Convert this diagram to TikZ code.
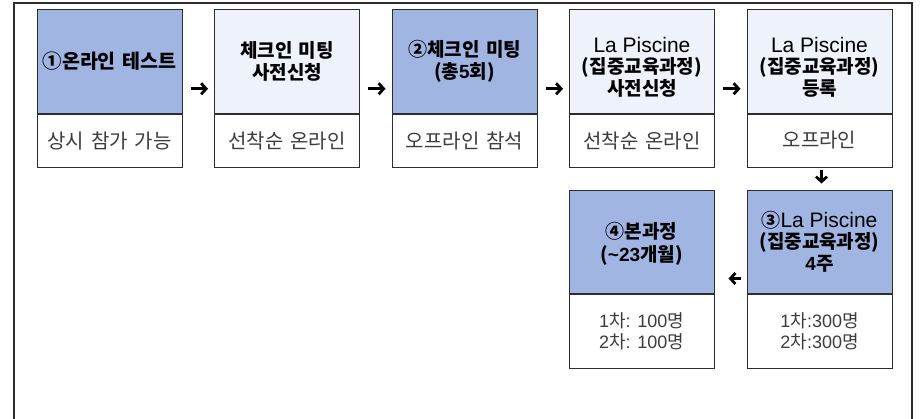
\documentclass[tikz,border=0pt]{standalone}
\usepackage{fontspec}
\setmainfont[WordSpace=1.5]{Noto Sans CJK KR}
\newfontfamily\lat{Liberation Sans}
\usetikzlibrary{positioning,arrows.meta}

\definecolor{stepcolor}{RGB}{161,181,227}
\definecolor{prepcolor}{RGB}{238,242,251}
\definecolor{linecolor}{RGB}{45,45,45}
\definecolor{notecolor}{RGB}{60,60,60}

\newcommand{\pool}{{\lat\mdseries\fontsize{21}{21.5}\selectfont La Piscine}}

\tikzset{
    headbox/.style={draw=linecolor, line width=1pt, minimum width=145pt, minimum height=103.5pt,
        inner sep=0pt, align=center, font=\fontsize{19.5}{21.5}\selectfont\bfseries},
    headtext/.style={inner sep=0pt, align=center, font=\fontsize{19}{21.5}\selectfont\bfseries},
    notebox/.style={draw=linecolor, line width=1pt, fill=white, minimum width=145pt, minimum height=53pt,
        inner sep=0pt, align=center, text=notecolor, font=\fontsize{20}{21}\selectfont},
    flow/.style={line width=2.8pt, -{Straight Barb[length=5pt,width=11pt]}}
}

\begin{document}
\begin{tikzpicture}[x=1pt,y=-1pt]
    \useasboundingbox (0,0) rectangle (920,418);

    % Draw the outer frame
    \begin{scope}
        \clip (0,0) rectangle (920,418);
        \draw[linecolor, line width=1.3pt] (14,430) -- (14,3) -- (912,3) -- (912,430);
    \end{scope}

    % First row: steps with their notes
    \node[headbox, fill=stepcolor] (test) at (109.5,61.25) {①온라인 테스트};
    \node[notebox, below=0pt of test] (testnote) {상시 참가 가능};

    \node[headbox, fill=prepcolor] (meetreg) at (287,61.25) {};
    \node[headtext] (meetregtext) at (meetreg.center) {체크인 미팅\\사전신청};
    \node[notebox, below=0pt of meetreg] (meetregnote) {선착순 온라인};

    \node[headbox, fill=stepcolor] (meet) at (464.5,61.25) {};
    \node[headtext] (meettext) at (meet.center) {②체크인 미팅\\(총{\lat 5}회)};
    \node[notebox, below=0pt of meet] (meetnote) {오프라인 참석};

    \node[headbox, fill=prepcolor] (poolreg) at (642,61.25) {};
    \node[headtext] (poolregtext) at ([yshift=-6pt]poolreg.center) {\pool\\(집중교육과정)\\사전신청};
    \node[notebox, below=0pt of poolreg] (poolregnote) {선착순 온라인};

    \node[headbox, fill=prepcolor] (poolsign) at (819.5,61.25) {};
    \node[headtext] (poolsigntext) at ([yshift=-6pt]poolsign.center) {\pool\\(집중교육과정)\\등록};
    \node[notebox, below=0pt of poolsign] (poolsignnote) {오프라인};

    % Second row
    \node[headbox, fill=stepcolor, minimum height=103pt] (pool) at (819.5,241.5) {};
    \node[headtext] (pooltext) at (pool.center) {③\pool\\(집중교육과정)\\{\lat 4}주};
    \node[notebox, minimum height=74pt, font=\fontsize{18}{21}\selectfont, below=0pt of pool] (poolnote) {{\lat 1}차{\lat :300}명\\{\lat 2}차{\lat :300}명};

    \node[headbox, fill=stepcolor, minimum height=103pt] (main) at (641.5,241.5) {};
    \node[headtext, font=\fontsize{19}{23}\selectfont\bfseries] (maintext) at ([yshift=-2pt]main.center) {④본과정\\({\lat\textasciitilde23}개월)};
    \node[notebox, minimum height=74pt, font=\fontsize{18}{21}\selectfont, below=0pt of main] (mainnote) {{\lat 1}차{\lat : 100}명\\{\lat 2}차{\lat : 100}명};

    % Arrows between the steps
    \foreach \a/\b in {test/meetreg, meetreg/meet, meet/poolreg, poolreg/poolsign} {
        \draw[flow] ([shift={(8,27.5)}]\a.east) -- ([shift={(-6,27.5)}]\b.west);
    }
    \draw[flow] ([shift={(2,2)}]poolsignnote.south) -- ([shift={(2,-6)}]pool.north);
    \draw[flow] ([shift={(-6,37)}]pool.west) -- ([shift={(14,37)}]main.east);
\end{tikzpicture}
\end{document}
